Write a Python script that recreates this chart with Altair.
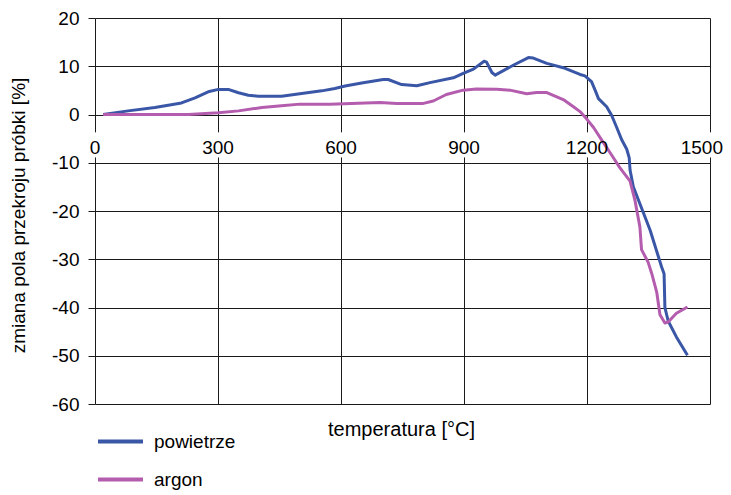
import altair as alt
import pandas as pd

# ---- data ----
series_names = ["powietrze", "argon"]
series_colors = ["#3A56A6", "#B45DAE"]

powietrze_T = [20, 81, 146, 211, 244, 276, 301, 325, 350, 374, 398, 455, 504, 553, 585, 610,
               654, 703, 715, 748, 785, 817, 874, 898, 923, 949, 955, 968, 976, 1020, 1057,
               1069, 1102, 1142, 1183, 1195, 1211, 1220, 1228, 1248, 1260, 1272, 1285, 1297,
               1303, 1305, 1313, 1329, 1354, 1382, 1388, 1390, 1398, 1418, 1445]
powietrze_v = [0, 0.75, 1.45, 2.4, 3.45, 4.7, 5.2, 5.2, 4.5, 4.0, 3.8, 3.8, 4.35, 4.9, 5.4, 5.9,
               6.6, 7.25, 7.25, 6.2, 5.95, 6.6, 7.6, 8.5, 9.4, 11.05, 10.85, 8.7, 8.15, 10.2, 11.8,
               11.7, 10.6, 9.7, 8.3, 8.0, 6.8, 5.0, 3.3, 1.6, -0.15, -2.6, -5.3, -7.2,
               -9.0, -11.5, -15.0, -18.5, -24.0, -31.6, -33.0, -40.0, -42.8, -46.1, -49.9]

argon_T = [20, 228, 301, 350, 407, 455, 500, 573, 695, 736, 801, 825, 857, 898, 930, 980,
           1012, 1053, 1077, 1102, 1142, 1167, 1183, 1195, 1216, 1236, 1260, 1280, 1305, 1317,
           1329, 1333, 1349, 1358, 1370, 1378, 1390, 1398, 1418, 1445]
argon_v = [0, 0, 0.35, 0.75, 1.45, 1.8, 2.15, 2.15, 2.5, 2.3, 2.3, 2.8, 4.15, 5.05, 5.3, 5.25,
           5.05, 4.3, 4.55, 4.55, 3.1, 1.6, 0.6, -0.5, -2.7, -5.3, -8.4, -11.0, -13.8, -17.8,
           -23.3, -28.0, -30.6, -33.0, -36.8, -41.5, -43.2, -43.0, -41.2, -39.9]

x_ticks = [0, 300, 600, 900, 1200, 1500]
y_ticks = [-60, -50, -40, -30, -20, -10, 0, 10, 20]

x_title = "temperatura [°C]"
y_title = "zmiana pola przekroju próbki [%]"

# ---- tables ----
rows = []
for name, ts, vs in [("powietrze", powietrze_T, powietrze_v), ("argon", argon_T, argon_v)]:
    for i, (t, v) in enumerate(zip(ts, vs)):
        rows.append({"seria": name, "T": t, "v": v, "i": i})
df = pd.DataFrame(rows)
ticks_df = pd.DataFrame({"T": x_ticks, "lab": [str(t) for t in x_ticks]})
inner_ticks = ticks_df.iloc[:-1]
last_tick = ticks_df.iloc[-1:]

FONT = "Liberation Sans"
FS = 19

x_scale = alt.Scale(domain=[0, 1500], nice=False, zero=False)
y_scale = alt.Scale(domain=[-60, 20], nice=False, zero=False)

x_axis = alt.Axis(values=x_ticks, grid=True, labels=False, ticks=False, domain=False,
                  title=x_title, titleX=306, titleY=31, titleBaseline="alphabetic",
                  titleAlign="center", titleFontSize=20)
y_axis = alt.Axis(values=y_ticks, grid=True, ticks=True, tickSize=7, labelPadding=9,
                  domain=False, title=y_title, titleAngle=270, titleX=-71, titleY=197,
                  titleBaseline="alphabetic", titleAlign="center",
                  labelExpr="toString(datum.value)")

X = alt.X("T:Q", scale=x_scale, axis=x_axis)

gaps = alt.Chart(ticks_df).mark_rule(color="white", strokeWidth=8).encode(
    x=X,
    y=alt.YDatum(-3.7, scale=y_scale, axis=y_axis, type="quantitative"),
    y2=alt.Y2Datum(-8.9),
)

lines = alt.Chart(df).mark_line(strokeWidth=3, strokeJoin="round").encode(
    x=X,
    y=alt.Y("v:Q", scale=y_scale, axis=y_axis),
    color=alt.Color("seria:N",
                    scale=alt.Scale(domain=series_names, range=series_colors),
                    sort=series_names,
                    legend=alt.Legend(title=None, orient="none", legendX=1, legendY=399,
                                      direction="vertical", symbolType="stroke",
                                      symbolSize=2025, symbolStrokeWidth=4,
                                      labelOffset=9, rowPadding=3, padding=0,
                                      labelFontSize=FS, labelFont=FONT, labelColor="black")),
    order="i:Q",
)

labels = alt.Chart(inner_ticks).mark_text(baseline="alphabetic", align="center", dy=39,
                                          fontSize=FS, font=FONT, color="black").encode(
    x=X,
    y=alt.YDatum(0, scale=y_scale, axis=y_axis, type="quantitative"),
    text="lab:N",
)
label_last = alt.Chart(last_tick).mark_text(baseline="alphabetic", align="right", dx=13, dy=39,
                                            fontSize=FS, font=FONT, color="black").encode(
    x=X,
    y=alt.YDatum(0, scale=y_scale, axis=y_axis, type="quantitative"),
    text="lab:N",
)

chart = alt.layer(gaps, lines, labels, label_last).properties(
    width=615, height=386,
    autosize=alt.AutoSizeParams(type="none"),
    padding={"left": 87, "top": 10, "right": 13, "bottom": 90},
).configure_view(strokeWidth=0).configure_axis(
    gridColor="#1a1a1a", gridWidth=1, gridOpacity=1,
    tickColor="#1a1a1a", tickWidth=1,
    labelFont=FONT, labelFontSize=FS, labelColor="black",
    titleFont=FONT, titleFontSize=FS, titleFontWeight="normal", titleColor="black",
)

chart.save("out.html", embed_options={"renderer": "svg", "actions": False})
